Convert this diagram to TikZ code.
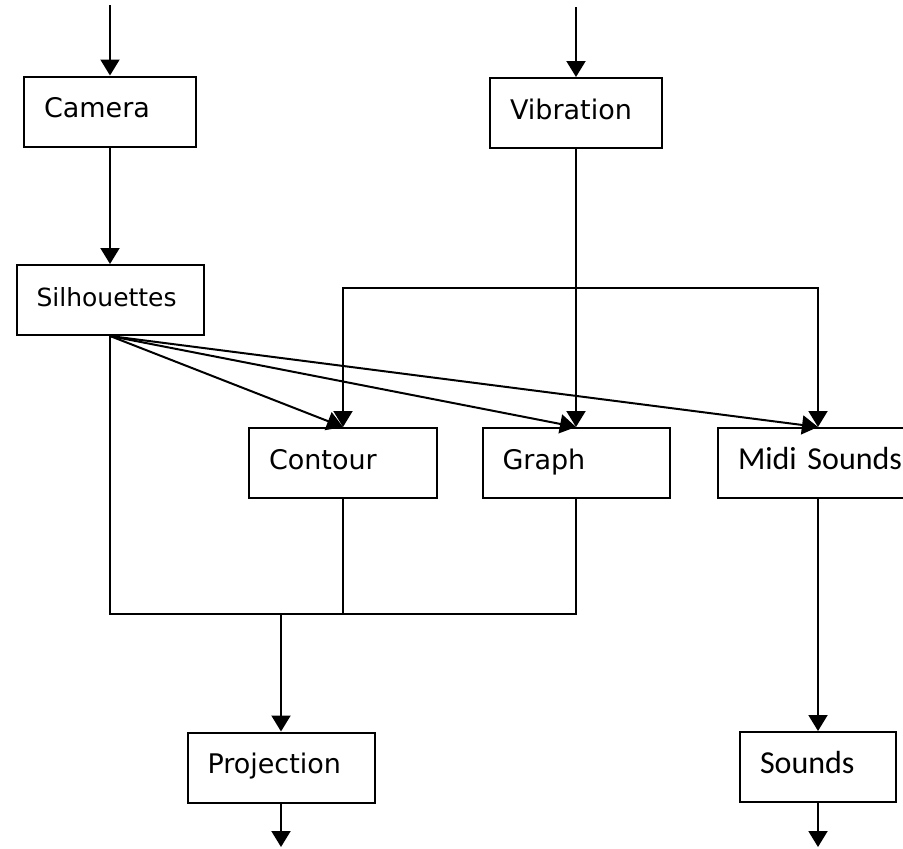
\documentclass[tikz,border=0pt]{standalone}
\usepackage{fontspec}
\setmainfont{DejaVu Sans}
\newfontfamily\midifont{Carlito}
\usepackage{tikz}
\usetikzlibrary{calc,arrows.meta}

\begin{document}
\begin{tikzpicture}[
        x=1pt, y=-1pt,
        box/.style = {draw, rectangle, line width=2pt, inner xsep=20pt, inner ysep=0pt, text height=41pt, text depth=29pt, align=left, font=\fontsize{27}{32}\selectfont},
        midibox/.style = {box, font=\midifont\fontsize{32}{38}\selectfont},
        arrow/.style = {-{Triangle[width=19pt,length=16pt]}, line width=2pt},
        line/.style = {line width=2pt}
    ]
    \useasboundingbox (0,0) rectangle (903,849);

    % Inputs at the top
    \node[box, text width=132pt] (camera) at (110,111.5) {Camera};
    \node[box, text width=132pt] (vib) at (576,113) {Vibration};
    \node[box, text width=147pt, font=\fontsize{25}{30}\selectfont] (silh) at (110,300) {Silhouettes};

    % Middle row
    \node[box, text width=148pt] (contour) at (343,463) {Contour};
    \node[box, text width=147pt] (graph) at (576,463) {Graph};
    \node[midibox, text width=167pt, anchor=west] (midi) at (717,463) {Midi Sounds};

    % Outputs at the bottom
    \node[box, text width=147pt] (proj) at (281,767.5) {Projection};
    \node[midibox, text width=116pt] (sounds) at (818,767) {Sounds};

    % Free ends and joints
    \coordinate (camin) at (110,5);
    \coordinate (vibin) at (576,7);
    \coordinate (bar) at (576,288);
    \coordinate (merge) at (281,614);
    \coordinate (projout) at (281,847);
    \coordinate (soundsout) at (818,847);

    % Top arrows
    \draw[arrow] (camin) -- (camera.north);
    \draw[arrow] (vibin) -- (vib.north);
    \draw[arrow] (camera.south) -- (silh.north);

    % Vibration to the middle row
    \draw[arrow] (vib.south) -- (graph.north);
    \draw[arrow] (bar) -| (contour.north);
    \draw[arrow] (bar) -| (midi.north -| sounds.north);

    % Silhouettes to the middle row
    \draw[arrow] (silh.south) -- (contour.north);
    \draw[arrow] (silh.south) -- (graph.north);
    \draw[arrow] (silh.south) -- (midi.north -| sounds.north);

    % Merge into projection
    \draw[line] (silh.south) |- (merge) -- (merge -| graph.south) -- (graph.south);
    \draw[line] (contour.south) -- (contour.south |- merge);
    \draw[arrow] (merge) -- (proj.north);
    \draw[arrow] (midi.south -| sounds.north) -- (sounds.north);

    % Outputs
    \draw[arrow] (proj.south) -- (projout);
    \draw[arrow] (sounds.south) -- (soundsout);

\end{tikzpicture}
\end{document}
